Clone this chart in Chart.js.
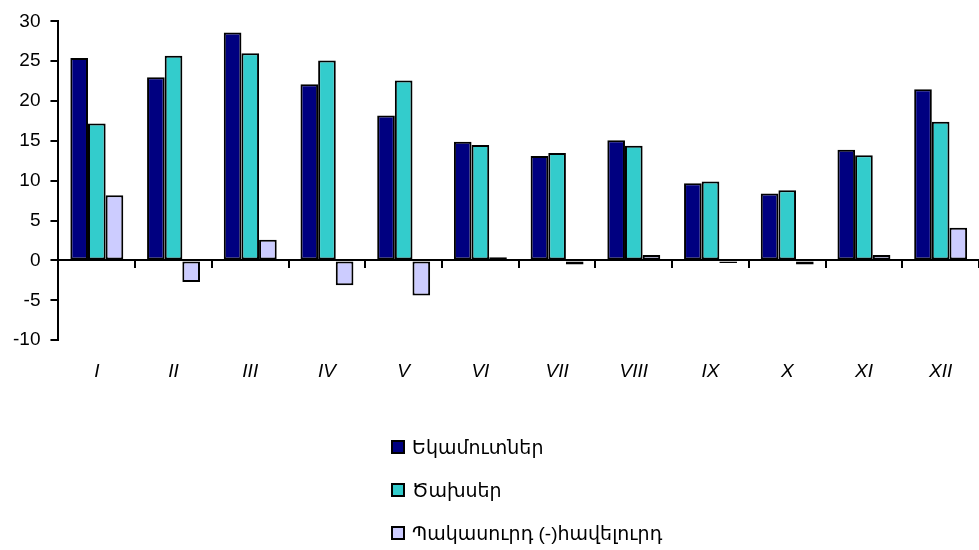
<!DOCTYPE html>
<html>
<head>
<meta charset="utf-8">
<script src="https://cdn.jsdelivr.net/npm/chart.js@4/dist/chart.umd.min.js"></script>
<style>
  html, body { margin: 0; padding: 0; background: #fff; }
  #wrap { position: relative; width: 979px; height: 550px; }
  #legend { position: absolute; left: 391px; top: 433px; font-family: "Liberation Sans", "DejaVu Sans", Arial, sans-serif; font-size: 19px; color: #000; }
  .li { display: flex; align-items: center; height: 28px; margin-bottom: 15px; }
  .bx { width: 10px; height: 10px; border: 2px solid #000; margin-right: 7px; }
</style>
</head>
<body>
<div id="wrap">
  <canvas id="c" width="979" height="550"></canvas>
  <div id="legend"></div>
</div>
<script>
const categories = ['I','II','III','IV','V','VI','VII','VIII','IX','X','XI','XII'];
const seriesNames = ['Եկամուտներ', 'Ծախսեր', 'Պակասուրդ (-)հավելուրդ'];
const revenues = [25.4, 23.0, 28.6, 22.1, 18.2, 14.9, 13.1, 15.1, 9.7, 8.4, 13.9, 21.5];
const expenses = [17.2, 25.7, 26.0, 25.1, 22.6, 14.5, 13.5, 14.4, 9.9, 8.8, 13.2, 17.4];
const balance  = [8.2, -2.7, 2.6, -3.1, -4.4, 0.4, -0.5, 0.7, -0.3, -0.5, 0.7, 4.1];
const colors = ['#000080', '#33CCCC', '#CCCCFF'];
const yMin = -10, yMax = 30, yStep = 5;

const FONT = '"Liberation Sans", "DejaVu Sans", Arial, sans-serif';

const mk = (label, data, color) => ({
  label, data, backgroundColor: color, borderColor: '#000', borderWidth: 2,
  borderSkipped: false, categoryPercentage: 0.69, barPercentage: 1.0
});

const chart = new Chart(document.getElementById('c'), {
  type: 'bar',
  data: {
    labels: categories,
    datasets: [
      mk(seriesNames[0], revenues, colors[0]),
      mk(seriesNames[1], expenses, colors[1]),
      mk(seriesNames[2], balance, colors[2])
    ]
  },
  options: {
    responsive: false,
    animation: false,
    layout: { padding: { top: 11, left: 3, right: 0, bottom: 147 } },
    plugins: { legend: { display: false }, tooltip: { enabled: false } },
    scales: {
      x: {
        grid: { display: false, drawTicks: false },
        border: { display: false },
        ticks: { color: '#000', padding: 20, font: { family: FONT, size: 19, style: 'italic' } }
      },
      x2: {
        type: 'category',
        labels: categories,
        position: { y: 0 },
        offset: true,
        grid: { offset: true, drawOnChartArea: false, drawTicks: true, tickLength: 7, color: '#000', lineWidth: 2 },
        border: { display: true, color: '#000', width: 2 },
        ticks: { display: false }
      },
      y: {
        min: yMin, max: yMax,
        ticks: { stepSize: yStep, color: '#000', padding: 10, font: { family: FONT, size: 19 } },
        grid: { drawOnChartArea: false, drawTicks: true, tickLength: 8, color: '#000', lineWidth: 2 },
        border: { display: true, color: '#000', width: 2 }
      }
    }
  }
});

const leg = document.getElementById('legend');
chart.data.datasets.forEach(ds => {
  const row = document.createElement('div');
  row.className = 'li';
  const b = document.createElement('span');
  b.className = 'bx';
  b.style.background = ds.backgroundColor;
  const t = document.createElement('span');
  t.textContent = ds.label;
  row.appendChild(b); row.appendChild(t);
  leg.appendChild(row);
});
</script>
</body>
</html>
